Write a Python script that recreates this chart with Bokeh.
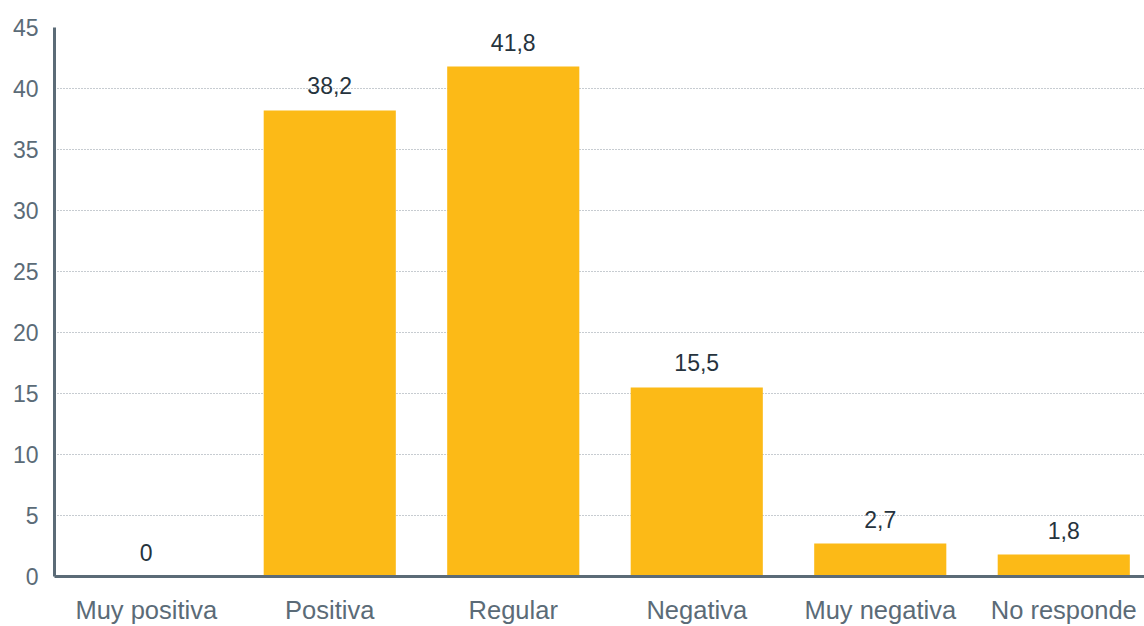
from bokeh.plotting import figure
from bokeh.models import ColumnDataSource, Range1d, FixedTicker, LabelSet
from bokeh.core.properties import value
from bokeh.embed import file_html
from bokeh.resources import INLINE

categories = ["Muy positiva", "Positiva", "Regular", "Negativa", "Muy negativa", "No responde"]
values = [0, 38.2, 41.8, 15.5, 2.7, 1.8]
value_labels = ["0", "38,2", "41,8", "15,5", "2,7", "1,8"]
y_ticks = [0, 5, 10, 15, 20, 25, 30, 35, 40, 45]

xs = list(range(len(categories)))
src = ColumnDataSource(dict(x=xs, top=values, lab=value_labels, cat=categories))

FONT = "Liberation Sans"
AXIS_COL = "#5b6b77"

p = figure(width=1144, height=626, output_backend="svg", toolbar_location=None,
           x_range=Range1d(-0.5, 5.44), y_range=Range1d(0, 45),
           min_border_left=54, min_border_right=0, min_border_top=27, min_border_bottom=40)
p.outline_line_color = None
p.background_fill_color = "white"

p.vbar(x="x", top="top", width=0.72, source=src, color="#FCBA17", line_color=None)

labels = LabelSet(x="x", y="top", text="lab", source=src, text_align="center",
                  text_baseline="bottom", y_offset=16, text_font=value(FONT),
                  text_font_size="23px", text_color="#26333d")
p.add_layout(labels)

p.xgrid.grid_line_color = None
p.ygrid.ticker = FixedTicker(ticks=y_ticks)
p.ygrid.grid_line_color = "#8f99a3"
p.ygrid.grid_line_dash = "1 2"
p.ygrid.grid_line_width = 1

p.yaxis.ticker = FixedTicker(ticks=y_ticks)
p.xaxis.ticker = FixedTicker(ticks=xs)
p.xaxis.major_label_overrides = {i: c for i, c in enumerate(categories)}

for ax in (p.xaxis[0], p.yaxis[0]):
    ax.axis_line_color = AXIS_COL
    ax.axis_line_width = 3
    ax.major_tick_line_color = None
    ax.minor_tick_line_color = None
    ax.major_label_text_color = AXIS_COL
    ax.major_label_text_font = FONT

p.yaxis.major_label_text_font_size = "23px"
p.yaxis.major_label_standoff = 10
p.xaxis.major_label_text_font_size = "25.5px"
p.xaxis.major_label_standoff = 13

open("out.html", "w").write(file_html(p, INLINE))
